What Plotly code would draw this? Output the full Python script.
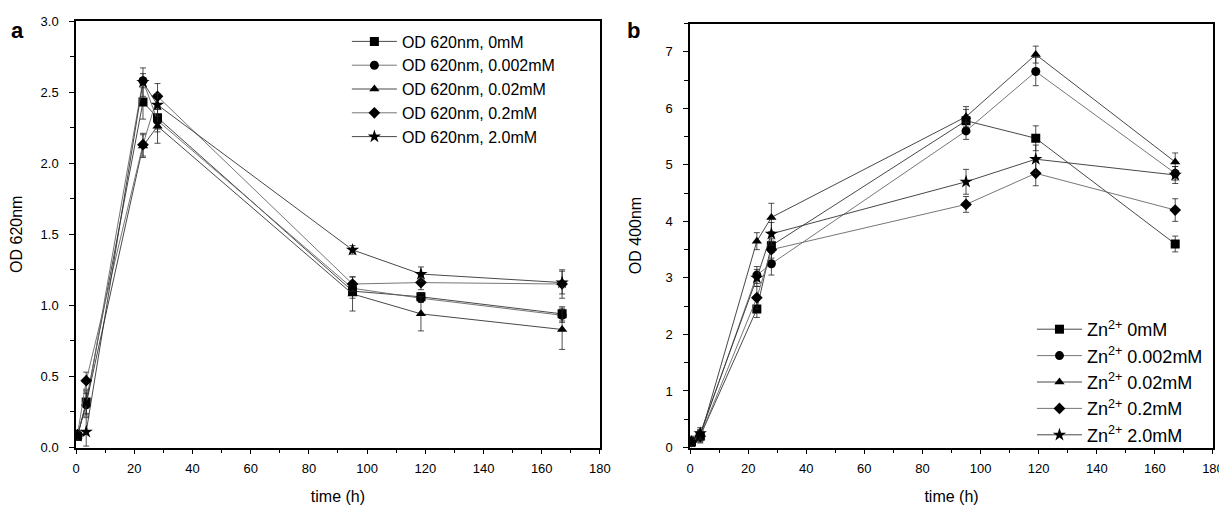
import plotly.graph_objects as go

# --- data ---
time_a = [0.5, 3.5, 23, 28, 95, 118.5, 167]
time_b = [0.5, 3.5, 23, 28, 95, 119, 167]

conc = ["0mM", "0.002mM", "0.02mM", "0.2mM", "2.0mM"]
symbols = ["square", "circle", "triangle-up", "diamond", "star"]

# panel a: OD 620nm
od620 = [
    [0.08, 0.32, 2.43, 2.32, 1.10, 1.06, 0.94],
    [0.09, 0.30, 2.58, 2.30, 1.12, 1.05, 0.93],
    [0.08, 0.31, 2.12, 2.26, 1.08, 0.94, 0.83],
    [0.09, 0.47, 2.13, 2.47, 1.15, 1.16, 1.15],
    [0.08, 0.11, 2.57, 2.41, 1.39, 1.22, 1.16],
]
od620_err = [
    [0.03, 0.08, 0.12, 0.08, 0.05, 0.03, 0.05],
    [0.03, 0.08, 0.05, 0.08, 0.05, 0.03, 0.05],
    [0.03, 0.08, 0.08, 0.12, 0.12, 0.12, 0.14],
    [0.03, 0.06, 0.08, 0.09, 0.05, 0.05, 0.10],
    [0.03, 0.10, 0.10, 0.08, 0.03, 0.05, 0.08],
]

# panel b: OD 400nm
od400 = [
    [0.10, 0.20, 2.45, 3.57, 5.78, 5.47, 3.60],
    [0.10, 0.22, 3.05, 3.25, 5.60, 6.65, 4.85],
    [0.12, 0.18, 3.65, 4.07, 5.85, 6.95, 5.05],
    [0.10, 0.20, 2.65, 3.50, 4.30, 4.85, 4.20],
    [0.10, 0.25, 3.00, 3.78, 4.70, 5.10, 4.82],
]
od400_err = [
    [0.08, 0.10, 0.15, 0.12, 0.20, 0.22, 0.14],
    [0.08, 0.10, 0.15, 0.20, 0.15, 0.25, 0.12],
    [0.08, 0.10, 0.15, 0.25, 0.18, 0.15, 0.16],
    [0.08, 0.10, 0.20, 0.15, 0.14, 0.22, 0.20],
    [0.08, 0.10, 0.15, 0.20, 0.22, 0.25, 0.15],
]

line_cols = ["#333333", "#666666", "#333333", "#666666", "#333333"]

fig = go.Figure()

for i in range(5):
    fig.add_trace(go.Scatter(
        x=time_a, y=od620[i], name="OD 620nm, " + conc[i],
        mode="lines+markers", xaxis="x", yaxis="y", legend="legend",
        line=dict(color=line_cols[i], width=0.9),
        marker=dict(symbol=symbols[i], size=9 if symbols[i] != "star" else 10, color="black"),
        error_y=dict(type="data", array=od620_err[i], color="#222222", thickness=0.8, width=3),
    ))

for i in range(5):
    fig.add_trace(go.Scatter(
        x=time_b, y=od400[i], name="Zn<sup>2+</sup> " + conc[i],
        mode="lines+markers", xaxis="x2", yaxis="y2", legend="legend2",
        line=dict(color=line_cols[i], width=0.9),
        marker=dict(symbol=symbols[i], size=9 if symbols[i] != "star" else 10, color="black"),
        error_y=dict(type="data", array=od400_err[i], color="#222222", thickness=0.8, width=3),
    ))

axis_common = dict(
    showline=True, linecolor="black", linewidth=1.5, mirror=True,
    ticks="outside", ticklen=5, tickwidth=1.2, tickcolor="black",
    showgrid=False, zeroline=False, automargin=False,
    tickfont=dict(family="Liberation Sans", size=13, color="black"),
    title_font=dict(family="Liberation Sans", size=16, color="black"),
)
minor_x = dict(dtick=10, ticks="outside", ticklen=4, tickwidth=1, tickcolor="black")

# page body adds ~8px offset, so the figure is slightly smaller than the window
fig.update_layout(
    width=1219, height=500,
    margin=dict(l=0, r=0, t=0, b=0),
    paper_bgcolor="white", plot_bgcolor="white",
    font=dict(family="Liberation Sans", color="black"),
    xaxis=dict(domain=[0.0558, 0.4856], range=[0, 180], dtick=20, minor=minor_x,
               ticklabelstandoff=3,
               title=dict(text="time (h)", standoff=16), anchor="y", **axis_common),
    yaxis=dict(domain=[0.121, 0.974], range=[0, 3.0], dtick=0.5, tickformat=".1f",
               minor=dict(dtick=0.25, ticks="outside", ticklen=4, tickwidth=1, tickcolor="black"),
               ticklabelstandoff=8,
               title=dict(text="OD 620nm", standoff=16), anchor="x", **axis_common),
    xaxis2=dict(domain=[0.5595, 0.9885], range=[0, 180], dtick=20, minor=minor_x,
                ticklabelstandoff=3,
                title=dict(text="time (h)", standoff=16), anchor="y2", **axis_common),
    yaxis2=dict(domain=[0.121, 0.969], range=[0, 7.5], dtick=1,
                minor=dict(dtick=0.5, ticks="outside", ticklen=4, tickwidth=1, tickcolor="black"),
                ticklabelstandoff=8,
                title=dict(text="OD 400nm", standoff=20), anchor="x2", **axis_common),
    legend=dict(x=0.278, y=0.967, xanchor="left", yanchor="top",
                bgcolor="rgba(0,0,0,0)", font=dict(size=16, family="Liberation Sans"),
                itemwidth=45, tracegroupgap=0),
    legend2=dict(x=0.840, y=0.394, xanchor="left", yanchor="top",
                 bgcolor="rgba(0,0,0,0)", font=dict(size=18, family="Liberation Sans"),
                 itemwidth=45, tracegroupgap=0),
    annotations=[
        dict(text="<b>a</b>", x=0.0082, y=0.956, xref="paper", yref="paper",
             xanchor="center", yanchor="middle",
             showarrow=False, font=dict(size=22, family="Liberation Sans")),
        dict(text="<b>b</b>", x=0.5135, y=0.956, xref="paper", yref="paper",
             xanchor="center", yanchor="middle",
             showarrow=False, font=dict(size=22, family="Liberation Sans")),
    ],
)

fig.write_html("out.html")
